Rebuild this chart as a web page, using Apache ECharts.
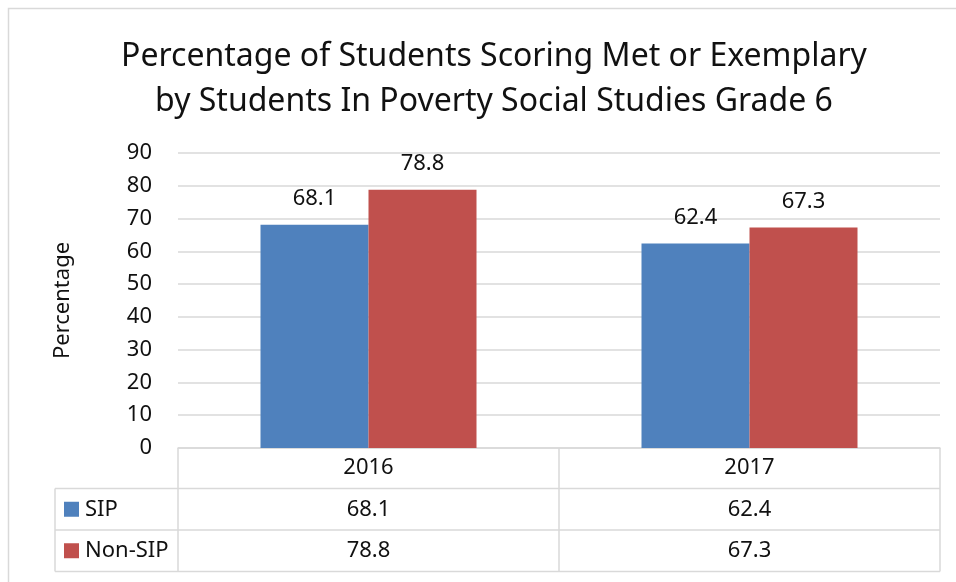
<!DOCTYPE html>
<html>
<head>
<meta charset="utf-8">
<script src="https://cdn.jsdelivr.net/npm/echarts@6/dist/echarts.min.js"></script>
<style>
  html, body { margin: 0; padding: 0; background: #fff; }
  #chart { width: 956px; height: 582px; }
</style>
</head>
<body>
<div id="chart"></div>
<script>
// Data
const categories = ['2016', '2017'];
const seriesNames = ['SIP', 'Non-SIP'];
const sipValues = [68.1, 62.4];
const nonSipValues = [78.8, 67.3];
const yTicks = { min: 0, max: 90, interval: 10 };

const colors = ['#4f81bd', '#c0504d'];
const FONT = 'Noto Sans';
const FS = 22;
const TEXT = '#111';
const LINE = '#d9d9d9';

const GRID = { left: 178, right: 16, top: 153, bottom: 134 };

const chart = echarts.init(document.getElementById('chart'), null, { renderer: 'canvas' });

const labelStyle = { show: true, position: 'top', distance: 15, fontSize: FS, color: TEXT, fontFamily: FONT };

chart.setOption({
  animation: false,
  backgroundColor: '#fff',
  textStyle: { fontFamily: FONT },
  title: {
    text: 'Percentage of Students Scoring Met or Exemplary\nby Students In Poverty Social Studies Grade 6',
    left: 489,
    top: 29,
    textAlign: 'center',
    textStyle: { fontFamily: FONT, fontSize: 32, fontWeight: 'normal', color: TEXT, lineHeight: 45, align: 'center' }
  },
  grid: GRID,
  xAxis: {
    type: 'category',
    data: categories,
    axisLine: { show: true, lineStyle: { color: LINE, width: 1.5 } },
    axisTick: { show: false },
    axisLabel: { fontSize: FS, lineHeight: FS, color: TEXT, margin: 9, fontFamily: FONT }
  },
  yAxis: {
    type: 'value',
    min: yTicks.min,
    max: yTicks.max,
    interval: yTicks.interval,
    name: 'Percentage',
    nameLocation: 'middle',
    nameGap: 104,
    nameTextStyle: { fontSize: FS, color: TEXT, fontFamily: FONT },
    axisLine: { show: false },
    axisTick: { show: false },
    axisLabel: { fontSize: FS, color: TEXT, margin: 26, fontFamily: FONT },
    splitLine: { lineStyle: { color: LINE, width: 1.5 } }
  },
  series: [
    {
      name: seriesNames[0], type: 'bar', data: sipValues,
      barWidth: 108, barGap: '0%',
      itemStyle: { color: colors[0] },
      label: labelStyle
    },
    {
      name: seriesNames[1], type: 'bar', data: nonSipValues,
      barWidth: 108, barGap: '0%',
      itemStyle: { color: colors[1] },
      label: labelStyle
    }
  ]
});

// Data table under the plot, laid out from the axis geometry
function buildTable() {
  const x0 = GRID.left;
  const x1 = 956 - GRID.right;
  const yAxisBase = chart.convertToPixel({ yAxisIndex: 0 }, 0);
  const rowH = 41.5;
  const headerBottom = yAxisBase + 40.5;
  const tableLeft = 55;
  const els = [];
  const ln = (xa, ya, xb, yb) => els.push({
    type: 'line', silent: true,
    shape: { x1: xa, y1: ya, x2: xb, y2: yb },
    style: { stroke: LINE, lineWidth: 1.5 }
  });
  const nRows = seriesNames.length;
  const bottom = headerBottom + rowH * nRows;
  const bandW = (x1 - x0) / categories.length;
  for (let i = 0; i <= categories.length; i++) {
    const x = x0 + bandW * i;
    ln(x, yAxisBase, x, bottom);
  }
  ln(tableLeft, headerBottom, x1, headerBottom);
  ln(tableLeft, headerBottom, tableLeft, bottom);
  const rows = [sipValues, nonSipValues];
  const font = FS + 'px "' + FONT + '"';
  rows.forEach((vals, r) => {
    const yb = headerBottom + rowH * (r + 1);
    ln(tableLeft, yb, x1, yb);
    const yc = headerBottom + rowH * (r + 0.5);
    els.push({
      type: 'rect', silent: true,
      shape: { x: 64, y: yc - 7.5, width: 15, height: 15 },
      style: { fill: colors[r] }
    });
    els.push({
      type: 'text', silent: true, x: 85, y: yc,
      style: { text: seriesNames[r], font: font, fill: TEXT, verticalAlign: 'middle', align: 'left' }
    });
    vals.forEach((v, c) => {
      const cx = chart.convertToPixel({ xAxisIndex: 0 }, categories[c]);
      els.push({
        type: 'text', silent: true, x: cx, y: yc,
        style: { text: String(v), font: font, fill: TEXT, align: 'center', verticalAlign: 'middle' }
      });
    });
  });
  // outer chart frame
  els.push({
    type: 'rect', silent: true,
    shape: { x: 8.5, y: 8.5, width: 1200, height: 1200 },
    style: { fill: 'none', stroke: LINE, lineWidth: 1.5 }
  });
  chart.setOption({ graphic: { elements: els } });
}
buildTable();
</script>
</body>
</html>
